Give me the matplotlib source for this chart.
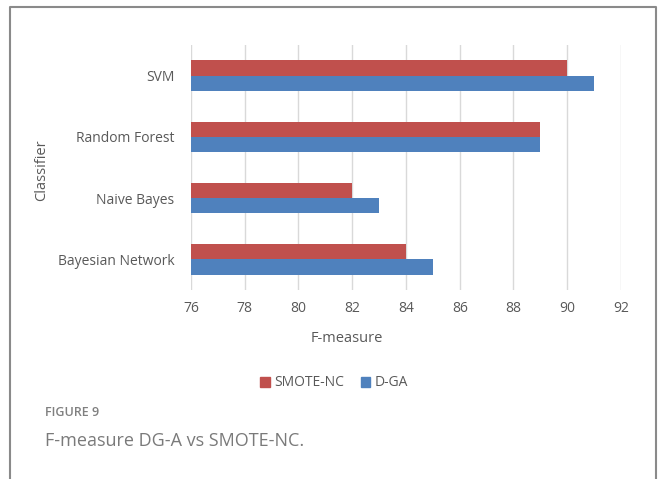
import matplotlib
matplotlib.use("Agg")
import matplotlib.pyplot as plt
from matplotlib.lines import Line2D
from matplotlib.patches import Patch
import numpy as np

# classifiers listed bottom to top
classifiers = ["Bayesian Network", "Naive Bayes", "Random Forest", "SVM"]
smote_nc = [84, 82, 89, 90]
d_ga = [85, 83, 89, 91]
xticks = [76, 78, 80, 82, 84, 86, 88, 90, 92]

red = "#C0504D"
blue = "#4F81BD"
txt = "#595959"

plt.rcParams["font.family"] = ["Open Sans", "DejaVu Sans"]

fig = plt.figure(figsize=(6.59, 4.79), dpi=100)
ax = fig.add_axes([0.2898, 0.3946, 0.6525, 0.5115])

y = np.arange(len(classifiers))
h = 0.25
ax.barh(y + h / 2, np.array(smote_nc) - 76, height=h, left=76, color=red, label="SMOTE-NC")
ax.barh(y - h / 2, np.array(d_ga) - 76, height=h, left=76, color=blue, label="D-GA")

ax.set_xlim(76, 92)
ax.set_ylim(-0.5, len(classifiers) - 0.5)
ax.set_xticks(xticks)
ax.set_yticks(y)
ax.set_yticklabels(classifiers)
ax.tick_params(axis="both", length=0, labelsize=10, colors=txt)
ax.tick_params(axis="x", pad=8)
ax.tick_params(axis="y", pad=12)
ax.grid(axis="x", color="#D9D9D9", linewidth=1)
ax.set_axisbelow(True)
for s in ax.spines.values():
    s.set_visible(False)

fig.text(347 / 659, 1 - 338 / 479, "F-measure", ha="center", va="center", fontsize=10.5, color=txt)
fig.text(42 / 659, 1 - 170 / 479, "Classifier", ha="center", va="center", rotation=90,
         fontsize=10.5, color=txt)

handles = [Patch(color=red, label="SMOTE-NC"), Patch(color=blue, label="D-GA")]
fig.legend(handles=handles, loc="center", bbox_to_anchor=(334 / 659, 1 - 383 / 479), ncol=2,
           frameon=False, fontsize=10, handlelength=0.7, handleheight=0.7, handletextpad=0.3,
           columnspacing=1.2, labelcolor=txt)

# caption
fig.text(45 / 659, 1 - 412 / 479, "FIGURE 9", ha="left", va="center", fontsize=9,
         color="#808080", fontweight="semibold")
fig.text(45 / 659, 1 - 441 / 479, "F-measure DG-A vs SMOTE-NC.", ha="left", va="center",
         fontsize=13, color="#7a7a7a")

# outer frame, open at the bottom
frame_x = [10 / 659, 10 / 659, 656 / 659, 656 / 659]
frame_y = [0, 1 - 7 / 479, 1 - 7 / 479, 0]
fig.add_artist(Line2D(frame_x, frame_y, transform=fig.transFigure, color="#8a8a8a", linewidth=1.5))

fig.savefig("out.png", dpi=100)
